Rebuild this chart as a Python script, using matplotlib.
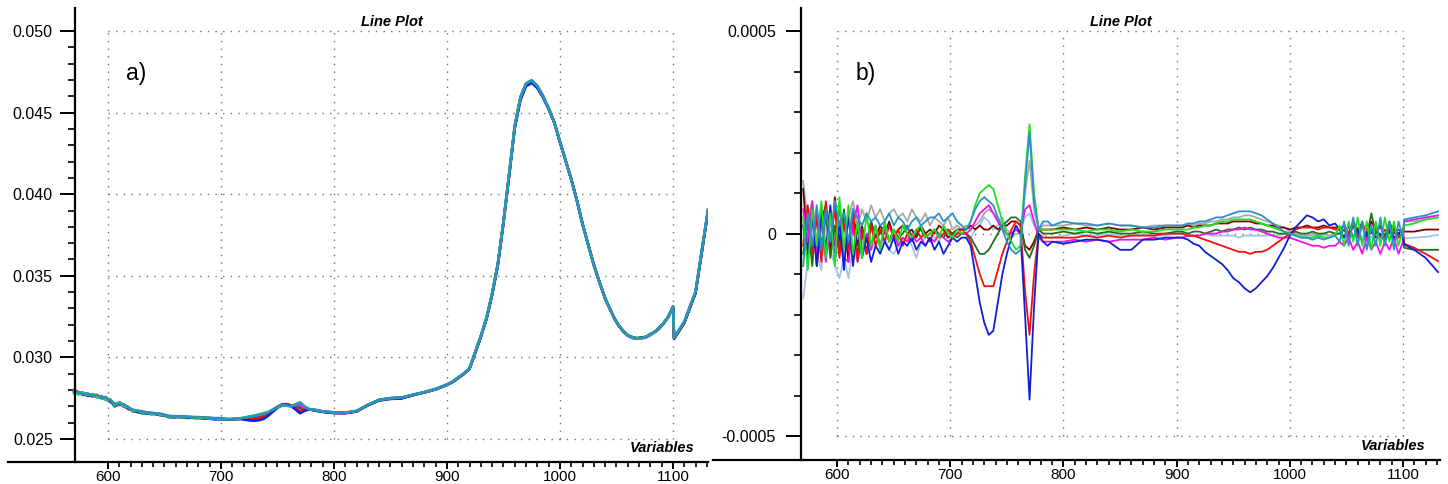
import numpy as np
import matplotlib
matplotlib.use("Agg")
import matplotlib.pyplot as plt
from matplotlib.ticker import FixedLocator

plt.rcParams['font.family'] = ['Liberation Sans', 'DejaVu Sans']

# ---------------- data ----------------
wavelength = (list(range(570, 791, 4)) + list(range(800, 901, 10)) +
              list(range(905, 1041, 5)) + list(range(1044, 1101, 4)) +
              [1101, 1110, 1120, 1131])

# mean absorbance spectrum (x 1e-5)
mean_spectrum = [
    2790, 2782, 2776, 2772, 2768, 2762, 2756, 2748, 2735, 2708, 2720, 2705,
    2690, 2675, 2670, 2664, 2660, 2657, 2655, 2650, 2645, 2638, 2636, 2637,
    2635, 2634, 2632, 2631, 2630, 2628, 2626, 2625, 2624, 2622, 2620, 2621,
    2623, 2625, 2627, 2630, 2634, 2640, 2648, 2660, 2678, 2695, 2708, 2710,
    2702, 2700, 2698, 2690, 2682, 2678, 2673, 2668,
    2661, 2660, 2670, 2708, 2738, 2749, 2752, 2770, 2786, 2805, 2832,
    2850, 2875, 2900, 2933, 3030, 3130, 3240, 3390, 3570, 3830, 4120, 4415,
    4590, 4675, 4694, 4660, 4600, 4525, 4440, 4320, 4205, 4090, 3960, 3815,
    3690, 3565, 3460, 3360,
    3300, 3240, 3195, 3160, 3135, 3122, 3117, 3118, 3125, 3140, 3158, 3180,
    3212, 3250, 3311,
    3117, 3215, 3400, 3900]

# deviations from the mean (x 1e-5), one list per sample
dev_lightblue = [
    -16, -7, 2, -5, -9, 3, -4, -8, -11, -6, -11, -3, -7, -2, -5, -4, -2, -3,
    -1, -4, -5, -3, -2, -1, -3, -6, -2, -1, 0, -1, -2, 0, -1, 0, 1, 0,
    0, -1, 1, 2, 4, 3, 1, 2, 4, 1, 0, 1, 1, 4, 5, 2, 1, 0, -1, -1,
    -0.5, 0, -0.5, -0.5, 0, -0.5, -0.5, 0, -0.5, -0.5, 0,
    0, -0.5, -0.5, -0.5, 0, -0.5, -0.5, -0.5, -0.5, -0.5, -1, -0.5, -0.5, -0.5,
    -0.5, -0.5, -0.5, -0.5, 0, 0, -0.5, -0.5, -0.5, -0.5, -0.5, -0.5, -0.5, -0.5,
    0, -1, 0, -1, 0, -1, 0, -1, 0, -1, 0, -1, 0, -1, 0,
    -1.2, -1, -0.8, -0.3]

dev_gray = [
    13, 3, 8, -2, 7, 2, 5, -1, 6, 3, 4, 8, 2, 6, 3, 7, 4, 6,
    3, 5, 6, 4, 5, 3, 6, 4, 3, 5, 2, 4, 3, 2, 4, 1, 2, 1,
    2, 1, 2, 3, 5, 6, 5, 4, 2, 0, -1, 0, 0, 10, 18, 6, 1, 2, 2, 2,
    2, 2.5, 2, 2, 2.5, 2, 2, 1.5, 2, 2, 2,
    2, 2.5, 2, 2.5, 2.5, 3, 3, 3.5, 3.5, 4, 4, 4.5, 4.5, 4,
    3.5, 3, 2.5, 2, 1.5, 0.5, 0, -0.5, -0.5, 0, -0.5, 0, -0.5, 0,
    0, 1, -1, 2, 0, 2, -1, 1, 0, 2, -1, 1, 0, 1, 0,
    3, 3, 3.5, 4]

dev_maroon = [
    11, -4, 6, -8, 3, 7, -5, 9, -2, 4, -7, 6, -3, 2, -5, 3, -1, 2,
    0, 3, -1, 1, 2, 0, 1, -1, 2, 0, 1, 0, 2, 1, -1, 0, 1, 1,
    1, 2, 1, 2, 1, 1, 2, 1, 2, 2, 3, 3, 2, -3, -4, -2, 1, 1, 1, 1,
    1.5, 1, 1.5, 1, 1.5, 1, 1, 1.5, 1, 1.5, 1.5,
    1.5, 2, 1.5, 2, 2, 2, 2.5, 2.5, 2.5, 3, 3, 3, 3, 2.5,
    2.5, 2, 2, 1.5, 1.5, 1, 1.5, 1.5, 2, 1.5, 1.5, 2, 1.5, 1.5,
    1, 2, 0, 3, 1, 2, 0, 3, 1, 2, -1, 2, 1, 0, 1,
    0.5, 0.5, 1, 1]

dev_darkgreen = [
    -5, 3, -8, 6, -3, 5, -6, 2, -4, 6, -3, 2, -5, 1, -2, 3, -1, 0,
    2, -2, 1, -1, 0, 2, -1, 0, 1, -1, 0, 1, 0, -1, 1, 0, -1, 0,
    0, -1, -3, -5, -5, -4, -2, 0, 2, 3, 4, 4, 3, -4, -6, -3, 1, 0, 0, 0,
    0.5, 0, 0.5, 0, 0.5, 0, 0, 0.5, 0, 0, 0.5,
    0.5, 0, 0.5, 0.5, 0, 0.5, 1, 0.5, 1, 1, 1.5, 1, 1.5, 1,
    1, 0.5, 0.5, 0, 0, 0, 0.5, 0, 0, 0.5, 0, 0, 0.5, 0,
    0, 1, -1, 2, 0, 3, -1, 5, 0, 2, -1, 3, 0, 1, 0,
    -3.5, -4, -4, -4]

dev_magenta = [
    6, -2, 8, -5, 3, -7, 4, -3, 7, -6, -7, 2, 7, -5, 0, -4, 2, -3,
    1, -2, 0, -3, -1, -2, 0, -2, -1, -3, -1, -2, 0, -1, -2, -1, 0, 0,
    0, 1, 3, 5, 6, 7, 5, 3, 1, 0, 0, 1, 0, 6, 7, 3, -1, -2, -2, -2,
    -2, -1.5, -2, -1.5, -2, -1.5, -1.5, -1.5, -1, -1.5, -1,
    -1, -0.5, -0.5, -0.5, 0, 0, 0, 0.5, 0.5, 1, 1, 1.5, 1, 1,
    0.5, 0, -0.5, -1, -1, -1, -1.5, -2, -2.5, -3, -3, -3.5, -3, -3,
    -2, -3, -1, -4, -2, -5, -1, -4, -2, -5, -2, -4, -1, -5, -2,
    3, 3.5, 4, 4.5]

dev_red = [
    -3, 7, -5, 4, -7, 8, -2, 6, -6, 3, -4, 5, -7, 0, -5, 2, -3, 1,
    -2, 2, -1, 1, -3, 0, -2, 1, -1, 0, -2, 1, -1, 0, 1, -1, 0, 1,
    0, -2, -6, -10, -13, -13, -13, -9, -5, -2, 1, 3, 2, -14, -25, -10, 0, -1, -1, -1,
    -1, -1, -0.5, -1, -0.5, -1, -0.5, -0.5, -0.5, 0, 0,
    0, -0.5, -0.5, -1, -1.5, -2, -2.5, -3, -3.5, -4, -4.5, -4.5, -5, -4.5,
    -4.5, -4, -3, -2, -1, 0, 1, 1.5, 1.5, 1.5, 1, 1.5, 1.5, 1,
    1, 2, 0, 2, -1, 2, 1, 0, 2, -1, 1, 0, 2, -1, 0,
    -2.5, -3.5, -5, -6.8]

dev_blue = [
    2, -6, 5, -8, 6, -4, 7, -7, 3, -9, 5, -8, 2, -6, -1, -7, -3, -5,
    -2, -4, -1, -5, -2, -3, -1, -4, -2, -3, -1, -4, -2, -5, -3, -1, -2, -1,
    -1, -3, -10, -17, -22, -25, -24, -17, -10, -5, -1, 2, 0, -20, -41, -18, 0, -2, -3, -2,
    -2.5, -2, -1.5, -1.5, -2, -4, -4, -1.5, -1.5, -1, -1,
    -1, -1.5, -2.5, -3, -4.5, -5.5, -6.5, -7.5, -9, -11, -12, -13.5, -14.5, -13.5,
    -12, -10.5, -8.5, -6, -3.5, -0.5, 1.5, 3, 4.5, 4, 3, 3.5, 2, 2.5,
    1, -1, 2, -1, 1, -2, 0, 1, -1, 0, -2, 1, -1, 0, -1,
    -2.7, -4, -6, -9.5]

dev_green = [
    4, -9, 6, -3, 8, -6, 5, -8, 9, -4, 7, -5, 3, -6, 5, -3, 2, -4,
    3, -2, 1, -2, 2, 0, -1, 1, 2, -1, 0, 1, -1, 2, 0, -1, 1, 0,
    1, 3, 7, 10, 11, 12, 11, 7, 3, 0, -2, -4, -3, 14, 27, 10, 1, 1, 1, 1,
    1, 1, 0.5, 1, 1, 0.5, 1, 0.5, 0.5, 1, 1,
    1, 1, 1.5, 1.5, 2, 2, 2.5, 3, 3, 3.5, 3.5, 3.5, 3.5, 3,
    2.5, 2, 1.5, 1, 0.5, 0, -0.5, -1, -1, -1, -0.5, -1, -1, -0.5,
    2, -3, 3, -2, 4, -3, 3, -4, 3, -3, 4, -2, 3, -3, 1,
    2, 2.5, 3.5, 4]

dev_teal = [
    -8, 5, -3, 7, -4, 6, -2, 8, 2, 5, -2, 6, 4, 2, 5, 3, 4, 2,
    3, 5, 2, 4, 3, 1, 3, 4, 2, 3, 4, 4, 5, 3, 4, 5, 3, 2,
    1, 3, 6, 8, 9, 8, 7, 4, 1, -2, -4, -5, -4, 12, 25, 8, 1, 3, 3, 2,
    3, 2.5, 2.5, 2, 2.5, 2, 2, 1.5, 1.5, 2, 2,
    2, 2.5, 2.5, 3, 3, 3.5, 4, 4, 4.5, 5, 5.5, 5.5, 5.5, 5,
    4.5, 3.5, 2.5, 1.5, 0.5, 0, -0.5, -1, -1, -1.5, -1, -1.5, -1, -0.5,
    -2, 3, -3, 4, -3, 3, -4, 2, -3, 4, -3, 3, -4, 3, -1,
    3.5, 4, 4.5, 5.5]

samples = [
    (dev_lightblue, '#9ec4e8'),
    (dev_gray, '#a8a8a8'),
    (dev_maroon, '#800000'),
    (dev_darkgreen, '#1f6f1f'),
    (dev_magenta, '#f010f0'),
    (dev_red, '#f01010'),
    (dev_blue, '#1020d0'),
    (dev_green, '#20e020'),
    (dev_teal, '#2a92c8'),
]

x_major = [600, 700, 800, 900, 1000, 1100]
x_minor = [v for v in range(610, 1131, 10) if v % 100 != 0]

# ---------------- figure ----------------
fig = plt.figure(figsize=(14.48, 4.84), dpi=100)
axL = fig.add_axes([8 / 1448, 22 / 484, 700 / 1448, 454 / 484])
axR = fig.add_axes([713 / 1448, 24 / 484, 727 / 1448, 452 / 484])

wl = np.array(wavelength, dtype=float)
mean = np.array(mean_spectrum, dtype=float)


def style(ax, xlim, ylim, spine_x, y_major, y_labels, y_minor, label_pad):
    ax.set_xlim(*xlim)
    ax.set_ylim(*ylim)
    for s in ('top', 'right'):
        ax.spines[s].set_visible(False)
    ax.spines['left'].set_position(('data', spine_x))
    for s in ('left', 'bottom'):
        ax.spines[s].set_linewidth(1.6)
        ax.spines[s].set_color('black')
    ax.set_xticks(x_major)
    ax.set_xticklabels([str(v) for v in x_major])
    ax.xaxis.set_minor_locator(FixedLocator(x_minor))
    ax.set_yticks(y_major)
    ax.set_yticklabels(y_labels)
    ax.yaxis.set_minor_locator(FixedLocator(y_minor))
    ax.tick_params(axis='x', which='major', length=5, width=1.4, pad=0.8,
                   labelsize=11, colors='black')
    ax.tick_params(axis='x', which='minor', length=3.5, width=1.2)
    ax.tick_params(axis='y', which='major', length=11, width=1.4,
                   pad=label_pad, labelsize=11.5)
    ax.tick_params(axis='y', which='minor', length=5, width=1.2)
    ax.patch.set_alpha(0)
    # dotted grid box
    ax.vlines(x_major, y_major[0], y_major[-1], colors='#6f6f6f',
              linestyles=(0, (1, 4.5)), linewidth=1.0, zorder=0)
    ax.hlines(y_major, x_major[0], x_major[-1], colors='#6f6f6f',
              linestyles=(0, (1, 4.5)), linewidth=1.0, zorder=0)
    ax.text(851, 0.960, 'Line Plot', transform=ax.get_xaxis_transform(),
            ha='center', va='baseline', fontsize=10.5, style='italic',
            weight='bold')
    ax.text(0.98, 0.015, 'Variables', transform=ax.transAxes, ha='right',
            va='bottom', fontsize=10.5, style='italic', weight='bold')


# left: spectra
style(axL, (511.5, 1131.0), (0.02359, 0.05141), 570.8,
      [0.025, 0.030, 0.035, 0.040, 0.045, 0.050],
      ['0.025', '0.030', '0.035', '0.040', '0.045', '0.050'],
      [0.025 + 0.001 * i for i in range(26)], 5)
for dev, col in samples:
    axL.plot(wl, (mean + np.array(dev, dtype=float)) * 1e-5, color=col,
             linewidth=1.8, zorder=2, solid_joinstyle='round')
axL.text(616, 0.841, 'a)', transform=axL.get_xaxis_transform(),
         fontsize=16.5, ha='left', va='baseline')

# right: mean-centred spectra
style(axR, (490.3, 1132.7), (-0.000559, 0.000557), 568.0,
      [-0.0005, 0.0, 0.0005], ['-0.0005', '0', '0.0005'],
      [-0.0005 + 0.0001 * i for i in range(11)], 7)
for dev, col in samples:
    axR.plot(wl, np.array(dev, dtype=float) * 1e-5, color=col,
             linewidth=1.3, zorder=2)
axR.text(616, 0.841, 'b)', transform=axR.get_xaxis_transform(),
         fontsize=16.5, ha='left', va='baseline')

fig.savefig('out.png', dpi=100)
